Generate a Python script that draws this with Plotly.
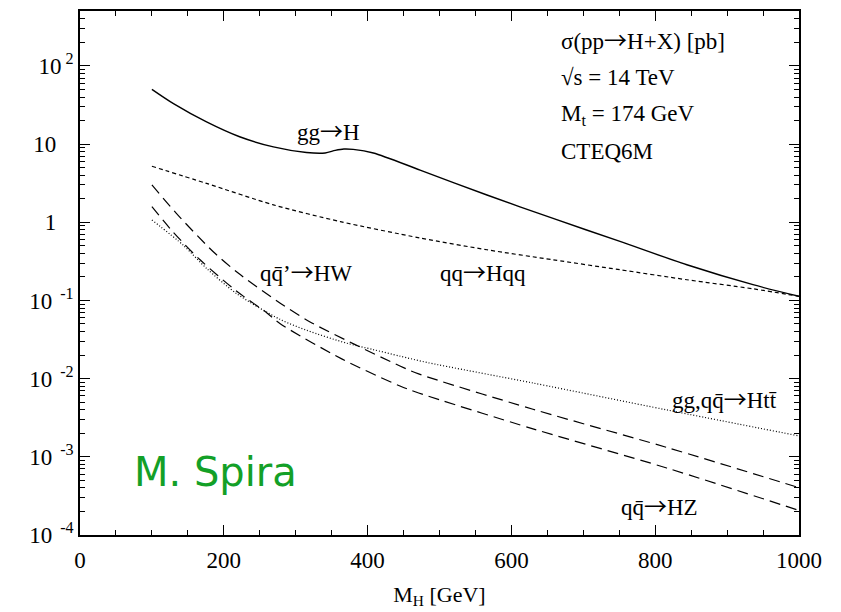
import plotly.graph_objects as go

# --- data ---
mh_ggh = [100, 130, 176, 222, 269, 315, 341, 355, 367, 380, 408, 473, 566, 658, 751, 844, 936, 1000]
xs_ggh = [50.1, 32.9, 19.2, 12.4, 9.2, 7.8, 7.7, 8.3, 8.65, 8.55, 7.7, 4.65, 2.23, 1.12, 0.568, 0.286, 0.159, 0.113]

mh_hqq = [100, 176, 269, 362, 473, 566, 658, 751, 844, 936, 1000]
xs_hqq = [5.2, 3.14, 1.67, 1.02, 0.63, 0.445, 0.331, 0.247, 0.184, 0.141, 0.113]

mh_hw = [100, 134, 185, 220, 278, 320, 382, 445, 471, 630, 816, 1000]
xs_hw = [3.0, 1.30, 0.423, 0.224, 0.0928, 0.0531, 0.0274, 0.0145, 0.0115, 0.00406, 0.00132, 0.000403]

mh_hz = [100, 129, 167, 218, 260, 278, 364, 445, 471, 630, 816, 1000]
xs_hz = [1.585, 0.76, 0.331, 0.131, 0.0692, 0.0507, 0.0179, 0.00805, 0.00655, 0.00228, 0.00072, 0.000206]

mh_htt = [100, 144, 176, 218, 278, 315, 371, 408, 445, 484, 630, 816, 1000]
xs_htt = [1.07, 0.505, 0.257, 0.122, 0.0574, 0.0416, 0.0284, 0.0235, 0.0194, 0.0160, 0.00879, 0.00398, 0.00185]

y_tickvals = [1e-4, 1e-3, 1e-2, 1e-1, 1, 10, 100]
y_ticktext = ["10<sup>\u00a0\u00a0-4</sup>", "10<sup>\u00a0\u00a0-3</sup>", "10<sup>\u00a0\u00a0-2</sup>",
              "10<sup>\u00a0\u00a0-1</sup>", "1\u00a0\u00a0\u00a0", "10\u00a0\u00a0\u00a0",
              "10<sup>\u00a02</sup>"]
y_minor = [m * 10.0 ** k for k in range(-4, 3) for m in range(2, 10)]
x_tickvals = [0, 200, 400, 600, 800, 1000]
x_minor = [v for v in range(50, 1000, 50) if v % 200 != 0]

SERIF = "Liberation Serif, Times New Roman, serif"
ARROW = '<span style="font-family:Noto Sans CJK JP">→</span>'

fig = go.Figure()
line_specs = [
    (mh_ggh, xs_ggh, "solid", 1.4),
    (mh_hqq, xs_hqq, "4px,3px", 1.2),
    (mh_hw, xs_hw, "11px,6px", 1.2),
    (mh_hz, xs_hz, "11px,6px", 1.2),
    (mh_htt, xs_htt, "1px,2px", 1.2),
]
for xv, yv, dash, w in line_specs:
    fig.add_trace(go.Scatter(x=xv, y=yv, mode="lines",
                             line=dict(color="black", width=w, dash=dash, shape="spline", smoothing=0.8),
                             showlegend=False, hoverinfo="skip"))

def ann(text, x, ylog, xanchor="center", size=23, color="black", family=SERIF):
    fig.add_annotation(text=text, x=x, y=ylog, xref="x", yref="y", showarrow=False,
                       xanchor=xanchor, yanchor="middle",
                       font=dict(family=family, size=size, color=color))

ann("gg" + ARROW + "H", 346, 1.18)
ann("σ(pp" + ARROW + "H+X) [pb]", 666, 2.34, xanchor="left")
ann("√s = 14 TeV", 666, 1.85, xanchor="left")
ann("M<sub>t</sub> = 174 GeV", 666, 1.37, xanchor="left")
ann("CTEQ6M", 666, 0.90, xanchor="left")
ann("qq\u0304’" + ARROW + "HW", 315, -0.628)
ann("qq" + ARROW + "Hqq", 560, -0.628)
ann("gg,qq\u0304" + ARROW + "Htt\u0304", 897, -2.247)
ann("qq\u0304" + ARROW + "HZ", 806, -3.62)
ann("M. Spira", 72, -3.2, xanchor="left", size=40, color="#13a027", family="DejaVu Sans, sans-serif")

fig.update_layout(
    width=833, height=604,
    margin=dict(l=72, r=42, t=1, b=77),
    paper_bgcolor="white", plot_bgcolor="white",
    font=dict(family=SERIF, size=23, color="black"),
    xaxis=dict(range=[0, 1000], showgrid=False, zeroline=False,
               showline=True, linecolor="black", linewidth=1.6, mirror="allticks",
               ticks="inside", ticklen=10, tickwidth=1.2, tickcolor="black",
               tickmode="array", tickvals=x_tickvals,
               ticktext=[str(v) for v in x_tickvals],
               ticklabelstandoff=4,
               minor=dict(ticks="inside", ticklen=5, tickwidth=1.0, tickcolor="black",
                          tickmode="array", tickvals=x_minor),
               title=dict(text="M<sub>H</sub> [GeV]", standoff=14, font=dict(size=22))),
    yaxis=dict(type="log", range=[-4, 2.702], showgrid=False, zeroline=False,
               showline=True, linecolor="black", linewidth=1.6, mirror="allticks",
               ticks="inside", ticklen=10, tickwidth=1.2, tickcolor="black",
               tickmode="array", tickvals=y_tickvals, ticktext=y_ticktext,
               ticklabelstandoff=0,
               minor=dict(ticks="inside", ticklen=5, tickwidth=1.0, tickcolor="black",
                          tickmode="array", tickvals=y_minor)),
)

fig.write_html("out.html")
